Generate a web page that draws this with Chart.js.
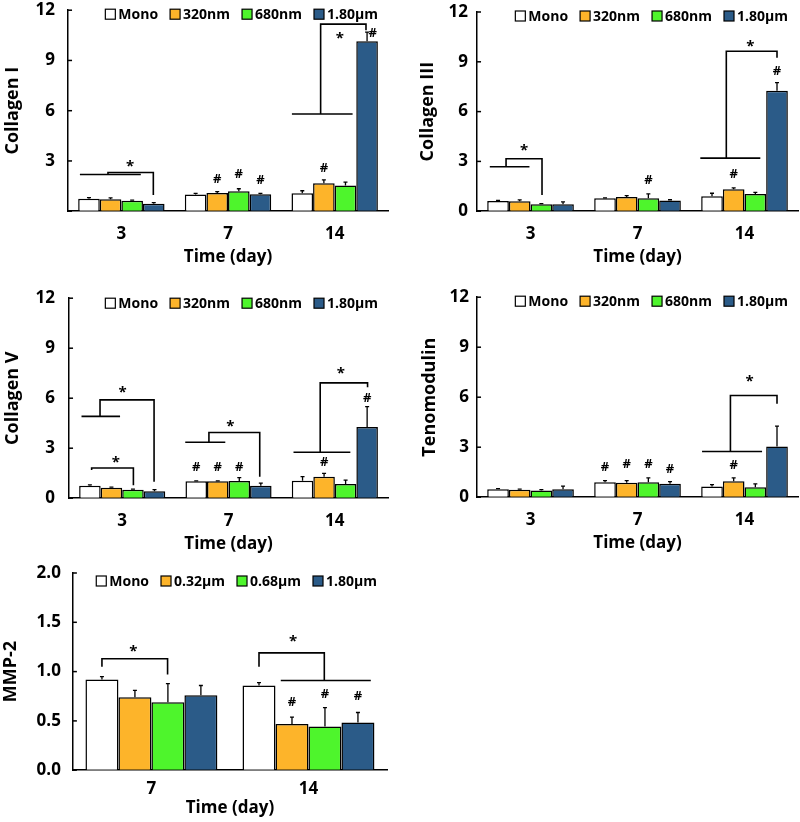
<!DOCTYPE html>
<html>
<head>
<meta charset="utf-8">
<script src="https://cdn.jsdelivr.net/npm/chart.js@4.4.0/dist/chart.umd.min.js"></script>
<style>
  body { margin: 0; background: #fff; width: 800px; height: 822px; position: relative; overflow: hidden; }
  .panel { position: absolute; width: 400px; }
</style>
</head>
<body>
<div class="panel" style="left:0;top:0;height:270px"><canvas id="col1"></canvas></div>
<div class="panel" style="left:400px;top:0;height:270px"><canvas id="col3"></canvas></div>
<div class="panel" style="left:0;top:288px;height:270px"><canvas id="col5"></canvas></div>
<div class="panel" style="left:400px;top:287px;height:270px"><canvas id="tnmd"></canvas></div>
<div class="panel" style="left:0;top:560px;height:262px"><canvas id="mmp2"></canvas></div>
<script>
// categories and series names
var days = ['3', '7', '14'];
var daysMmp = ['7', '14'];
var groups = ['Mono', '320nm', '680nm', '1.80μm'];
var groupsMmp = ['Mono', '0.32μm', '0.68μm', '1.80μm'];
var colors = ['#ffffff', '#fdb42a', '#4ef52c', '#2b5b88'];

// Collagen I  (mean per group over days, + upper error)
var col1Mono = [0.74, 1.00, 1.07], col1MonoErr = [0.07, 0.06, 0.15];
var col1A = [0.72, 1.09, 1.67], col1AErr = [0.07, 0.08, 0.20];
var col1B = [0.62, 1.19, 1.53], col1BErr = [0.04, 0.15, 0.20];
var col1C = [0.44, 1.01, 10.14], col1CErr = [0.07, 0.05, 0.55];
// significance marks: [day index, bar position, value]
var col1Lines = [
  [[0, -0.42, 2.19], [0, 2.4, 2.19]],
  [[0, 0.88, 2.19], [0, 0.88, 2.31], [0, 2.98, 2.31], [0, 2.98, 0.97]],
  [[2, -0.48, 5.8], [2, 2.33, 5.8]],
  [[2, 0.85, 5.8], [2, 0.85, 11.17], [2, 2.95, 11.17], [2, 2.95, 10.8]]
];
var col1Stars = [[0, 1.9, 2.82], [2, 1.74, 10.5]];
var col1Hash = [[1, 1, 1.93], [1, 2, 2.23], [1, 3, 1.83], [2, 1, 2.56], [2, 3.26, 10.64]];

// Collagen III
var col3Mono = [0.62, 0.78, 0.90], col3MonoErr = [0.03, 0.02, 0.18];
var col3A = [0.60, 0.86, 1.32], col3AErr = [0.08, 0.08, 0.08];
var col3B = [0.42, 0.78, 1.04], col3BErr = [0.04, 0.26, 0.10];
var col3C = [0.42, 0.64, 7.26], col3CErr = [0.14, 0.05, 0.48];
var col3Lines = [
  [[0, -0.38, 2.68], [0, 1.45, 2.68]],
  [[0, 0.37, 2.68], [0, 0.37, 3.16], [0, 2.03, 3.16], [0, 2.03, 0.98]],
  [[2, -0.54, 3.2], [2, 2.23, 3.2]],
  [[2, 0.66, 3.2], [2, 0.66, 9.64], [2, 3.0, 9.64], [2, 3.0, 9.24]]
];
var col3Stars = [[0, 1.2, 3.84], [2, 1.77, 10.08]];
var col3Hash = [[1, 2, 1.88], [2, 1, 2.24], [2, 3, 8.44]];

// Collagen V
var col5Mono = [0.74, 1.01, 1.05], col5MonoErr = [0.06, 0.03, 0.24];
var col5A = [0.62, 1.01, 1.29], col5AErr = [0.05, 0.03, 0.20];
var col5B = [0.50, 1.03, 0.85], col5BErr = [0.04, 0.20, 0.24];
var col5C = [0.42, 0.74, 4.27], col5CErr = [0.10, 0.16, 1.23];
var col5Lines = [
  [[0, -0.39, 4.91], [0, 1.4, 4.91]],
  [[0, 0.47, 4.91], [0, 0.47, 5.9], [0, 2.98, 5.9], [0, 2.98, 0.99]],
  [[0, 0.08, 1.69], [0, 0.08, 1.81], [0, 2.02, 1.81], [0, 2.02, 0.78]],
  [[1, -0.51, 3.36], [1, 1.35, 3.36]],
  [[1, 0.59, 3.36], [1, 0.59, 3.94], [1, 2.95, 3.94], [1, 2.95, 1.29]],
  [[2, -0.42, 2.76], [2, 2.22, 2.76]],
  [[2, 0.82, 2.76], [2, 0.82, 6.92], [2, 3.02, 6.92], [2, 3.02, 6.66]]
];
var col5Stars = [[0, 1.52, 6.5], [0, 1.21, 2.33], [1, 1.58, 4.47], [2, 1.78, 7.65]];
var col5Hash = [[1, 0, 1.83], [1, 1, 1.83], [1, 2, 1.83], [2, 1, 2.17], [2, 3, 6.0]];

// Tenomodulin
var tnmdMono = [0.48, 0.90, 0.64], tnmdMonoErr = [0.04, 0.10, 0.12];
var tnmdA = [0.44, 0.86, 0.96], tnmdAErr = [0.05, 0.14, 0.20];
var tnmdB = [0.40, 0.90, 0.60], tnmdBErr = [0.05, 0.26, 0.20];
var tnmdC = [0.48, 0.80, 3.04], tnmdCErr = [0.18, 0.14, 1.22];
var tnmdLines = [
  [[2, -0.46, 2.74], [2, 2.31, 2.74]],
  [[2, 0.85, 2.74], [2, 0.85, 6.1], [2, 3.0, 6.1], [2, 3.0, 5.6]]
];
var tnmdStars = [[2, 1.74, 7.1]];
var tnmdHash = [[1, 0, 1.8], [1, 1, 1.96], [1, 2, 1.96], [1, 3, 1.7], [2, 1, 1.9]];

// MMP-2
var mmpMono = [0.919, 0.858], mmpMonoErr = [0.03, 0.03];
var mmpA = [0.739, 0.468], mmpAErr = [0.07, 0.07];
var mmpB = [0.688, 0.444], mmpBErr = [0.19, 0.19];
var mmpC = [0.759, 0.485], mmpCErr = [0.10, 0.10];
var mmpLines = [
  [[0, 0, 1.05], [0, 0, 1.13], [0, 1.99, 1.13], [0, 1.99, 0.97]],
  [[1, 0, 1.05], [1, 0, 1.19], [1, 1.98, 1.19], [1, 1.98, 0.91]],
  [[1, 0.66, 0.91], [1, 3.39, 0.91]]
];
var mmpStars = [[0, 0.95, 1.23], [1, 1.03, 1.33]];
var mmpHash = [[1, 1, 0.69], [1, 2, 0.77], [1, 3, 0.75]];

var FONT = '"Open Sans", Lato, sans-serif';

function xAt(chart, cat, s) {
  var a = chart.getDatasetMeta(0).data[cat];
  var b = chart.getDatasetMeta(1).data[cat];
  return a.x + s * (b.x - a.x);
}

var extras = {
  id: 'extras',
  afterDatasetsDraw: function(chart) {
    var ctx = chart.ctx, y = chart.scales.y, area = chart.chartArea;
    var o = chart.options.plugins.extras;
    ctx.save();
    ctx.strokeStyle = '#000';
    ctx.fillStyle = '#000';
    // error bars (upper only)
    ctx.lineWidth = 1.3;
    chart.data.datasets.forEach(function(ds, i) {
      chart.getDatasetMeta(i).data.forEach(function(bar, j) {
        var top = y.getPixelForValue(ds.data[j]);
        var e = y.getPixelForValue(ds.data[j] + ds.err[j]);
        ctx.beginPath();
        ctx.moveTo(bar.x, top);
        ctx.lineTo(bar.x, e);
        ctx.moveTo(bar.x - 2, e);
        ctx.lineTo(bar.x + 2, e);
        ctx.stroke();
      });
    });
    // inward y ticks
    ctx.lineWidth = 1.5;
    y.ticks.forEach(function(t) {
      var py = y.getPixelForValue(t.value);
      ctx.beginPath();
      ctx.moveTo(area.left, py);
      ctx.lineTo(area.left + 4, py);
      ctx.stroke();
    });
    // brackets
    ctx.lineWidth = 1.6;
    o.lines.forEach(function(pl) {
      ctx.beginPath();
      pl.forEach(function(p, k) {
        var px = xAt(chart, p[0], p[1]), py = y.getPixelForValue(p[2]);
        if (k === 0) ctx.moveTo(px, py); else ctx.lineTo(px, py);
      });
      ctx.stroke();
    });
    ctx.textAlign = 'center';
    ctx.textBaseline = 'middle';
    ctx.font = 'bold 15px ' + FONT;
    o.stars.forEach(function(p) {
      ctx.fillText('*', xAt(chart, p[0], p[1]), y.getPixelForValue(p[2]) + 3);
    });
    ctx.font = 'bold 13px ' + FONT;
    o.hashes.forEach(function(p) {
      ctx.fillText('#', xAt(chart, p[0], p[1]), y.getPixelForValue(p[2]));
    });
    // legend, right aligned at top of plot
    ctx.font = 'bold 14px ' + FONT;
    ctx.textAlign = 'left';
    var items = chart.data.datasets.map(function(ds) { return ds.label; });
    var widths = items.map(function(t) { return 10 + 3 + ctx.measureText(t).width; });
    var total = widths.reduce(function(a, b) { return a + b; }, 0) + 12 * (items.length - 1);
    var lx = area.right - 10 - total, ly = area.top + o.legendDy;
    chart.data.datasets.forEach(function(ds, i) {
      ctx.fillStyle = ds.backgroundColor;
      ctx.fillRect(lx, ly - 5, 10, 10);
      ctx.lineWidth = 1.2;
      ctx.strokeRect(lx, ly - 5, 10, 10);
      ctx.fillStyle = '#000';
      ctx.fillText(ds.label, lx + 13, ly + 1);
      lx += widths[i] + 12;
    });
    ctx.restore();
  }
};

function makePanel(id, labels, names, vals, errs, yMax, step, title, opts) {
  var datasets = names.map(function(n, i) {
    return {
      label: n,
      data: vals[i],
      err: errs[i],
      backgroundColor: colors[i],
      borderColor: '#000',
      borderWidth: 1.5,
      borderSkipped: 'bottom',
      categoryPercentage: opts.catPct,
      barPercentage: 1.0
    };
  });
  new Chart(document.getElementById(id), {
    type: 'bar',
    data: { labels: labels, datasets: datasets },
    plugins: [extras],
    options: {
      responsive: true,
      maintainAspectRatio: false,
      animation: false,
      layout: { padding: opts.padding },
      plugins: {
        legend: { display: false },
        tooltip: { enabled: false },
        extras: { lines: opts.lines, stars: opts.stars, hashes: opts.hashes, legendDy: opts.legendDy }
      },
      scales: {
        x: {
          grid: { display: false },
          border: { color: '#000', width: 1.5 },
          ticks: { color: '#000', font: { family: FONT, size: 17, weight: 'bold' }, padding: opts.xPad },
          title: { display: true, text: 'Time (day)', color: '#000',
                   font: { family: FONT, size: 17, weight: 'bold' }, padding: { top: opts.titlePad, bottom: 0 } }
        },
        y: {
          min: 0, max: yMax,
          grid: { display: true, drawOnChartArea: false, drawTicks: true, tickLength: opts.tickLen,
                  tickColor: 'rgba(0,0,0,0)' },
          border: { color: '#000', width: 1.5 },
          ticks: {
            stepSize: step, color: '#000', padding: 0,
            font: { family: FONT, size: 17, weight: 'bold' },
            callback: function(v) {
              if (opts.hideZero && v === 0) return '';
              return opts.decimals ? v.toFixed(opts.decimals) : v;
            }
          },
          title: { display: true, text: title, color: '#000',
                   font: { family: FONT, size: 18, weight: 'bold' }, padding: { top: 0, bottom: opts.yTitlePad } }
        }
      }
    }
  });
}

makePanel('col1', days, groups,
  [col1Mono, col1A, col1B, col1C], [col1MonoErr, col1AErr, col1BErr, col1CErr],
  12, 3, 'Collagen I',
  { catPct: 0.81, hideZero: true, lines: col1Lines, stars: col1Stars, hashes: col1Hash,
    legendDy: 4, xPad: 5, titlePad: -3, yTitlePad: 12, tickLen: 13,
    padding: { top: 9, left: 2, right: 12, bottom: 3 } });

makePanel('col3', days, groups,
  [col3Mono, col3A, col3B, col3C], [col3MonoErr, col3AErr, col3BErr, col3CErr],
  12, 3, 'Collagen III',
  { catPct: 0.81, lines: col3Lines, stars: col3Stars, hashes: col3Hash,
    legendDy: 4, xPad: 5, titlePad: -3, yTitlePad: 10, tickLen: 9,
    padding: { top: 12, left: 17, right: 2, bottom: 3 } });

makePanel('col5', days, groups,
  [col5Mono, col5A, col5B, col5C], [col5MonoErr, col5AErr, col5BErr, col5CErr],
  12, 3, 'Collagen V',
  { catPct: 0.81, lines: col5Lines, stars: col5Stars, hashes: col5Hash,
    legendDy: 5, xPad: 5, titlePad: -3, yTitlePad: 12, tickLen: 14,
    padding: { top: 10, left: 2, right: 12, bottom: 4 } });

makePanel('tnmd', days, groups,
  [tnmdMono, tnmdA, tnmdB, tnmdC], [tnmdMonoErr, tnmdAErr, tnmdBErr, tnmdCErr],
  12, 3, 'Tenomodulin',
  { catPct: 0.81, lines: tnmdLines, stars: tnmdStars, hashes: tnmdHash,
    legendDy: 4, xPad: 5, titlePad: -3, yTitlePad: 9, tickLen: 8,
    padding: { top: 10, left: 19, right: 2, bottom: 4 } });

makePanel('mmp2', daysMmp, groupsMmp,
  [mmpMono, mmpA, mmpB, mmpC], [mmpMonoErr, mmpAErr, mmpBErr, mmpCErr],
  2.0, 0.5, 'MMP-2',
  { catPct: 0.84, decimals: 1, lines: mmpLines, stars: mmpStars, hashes: mmpHash,
    legendDy: 8, xPad: 1, titlePad: -3, yTitlePad: 15, tickLen: 12,
    padding: { top: 13, left: 0, right: 13, bottom: 4 } });
</script>
</body>
</html>
